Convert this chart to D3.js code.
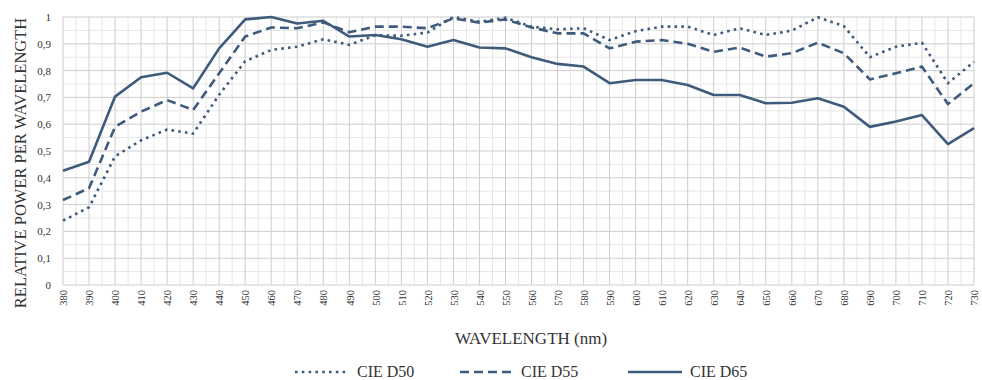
<!DOCTYPE html>
<html>
<head>
<meta charset="utf-8">
<script src="https://cdn.jsdelivr.net/npm/d3@7"></script>
<style>
  body { margin: 0; background: #fff; }
  svg text { font-family: "Liberation Serif", "Times New Roman", "DejaVu Serif", serif; fill: #333; }
</style>
</head>
<body>
<svg id="CHART"></svg>
<script>
// wavelengths (nm)
var wavelengths = [380, 390, 400, 410, 420, 430, 440, 450, 460, 470, 480, 490, 500, 510, 520, 530, 540, 550,
  560, 570, 580, 590, 600, 610, 620, 630, 640, 650, 660, 670, 680, 690, 700, 710, 720, 730];

var d50 = [0.24, 0.29, 0.48, 0.54, 0.58, 0.565, 0.71, 0.835, 0.877, 0.889, 0.917,
  0.896, 0.932, 0.93, 0.942, 1.0, 0.982, 0.997, 0.964, 0.954, 0.958,
  0.914, 0.947, 0.964, 0.964, 0.933, 0.958, 0.933, 0.949, 0.999, 0.966,
  0.85, 0.889, 0.904, 0.753, 0.833];
var d55 = [0.317, 0.361, 0.59, 0.647, 0.69, 0.653, 0.79, 0.927, 0.961, 0.958, 0.98,
  0.943, 0.964, 0.964, 0.958, 0.995, 0.979, 0.991, 0.961, 0.939, 0.939,
  0.883, 0.908, 0.914, 0.9, 0.87, 0.886, 0.852, 0.865, 0.904, 0.865,
  0.767, 0.79, 0.815, 0.675, 0.753];
var d65 = [0.426, 0.46, 0.703, 0.775, 0.792, 0.734, 0.883, 0.991, 1.0, 0.976, 0.986,
  0.927, 0.933, 0.917, 0.889, 0.914, 0.886, 0.883, 0.85, 0.825, 0.815,
  0.753, 0.765, 0.765, 0.746, 0.709, 0.709, 0.678, 0.68, 0.697, 0.665,
  0.59, 0.61, 0.634, 0.526, 0.585];

var seriesNames = ["CIE D50", "CIE D55", "CIE D65"];
var yTicks = [0, 0.1, 0.2, 0.3, 0.4, 0.5, 0.6, 0.7, 0.8, 0.9, 1];

var width = 982, height = 380;
var lineColor = "#3e5b7c";
var dashes = ["2.6,4.2", "9,5", null];
var serif = '"Liberation Serif", "Times New Roman", "DejaVu Serif", serif';

var svg = d3.select("#CHART").attr("width", width).attr("height", height)
  .attr("font-family", serif);

var x = d3.scaleLinear().domain([380, 730]).range([63, 974]);
var y = d3.scaleLinear().domain([0, 1]).range([285, 17]);

// minor grid (every 5 nm / 0.05)
var grid = svg.append("g");
grid.selectAll("line.vminor")
  .data(wavelengths.slice(1))
  .join("line")
  .attr("x1", function (d) { return x(d - 5); })
  .attr("x2", function (d) { return x(d - 5); })
  .attr("y1", y(0)).attr("y2", y(1))
  .attr("stroke", "#e6e6e6").attr("stroke-width", 1);
grid.selectAll("line.hminor")
  .data(yTicks.slice(1))
  .join("line")
  .attr("y1", function (d) { return y(d - 0.05); })
  .attr("y2", function (d) { return y(d - 0.05); })
  .attr("x1", x(380)).attr("x2", x(730))
  .attr("stroke", "#e6e6e6").attr("stroke-width", 1);

// major grid
grid.append("g").selectAll("line")
  .data(wavelengths)
  .join("line")
  .attr("x1", function (d) { return x(d); })
  .attr("x2", function (d) { return x(d); })
  .attr("y1", y(0)).attr("y2", y(1))
  .attr("stroke", "#cdcdcd").attr("stroke-width", 1);
grid.append("g").selectAll("line")
  .data(yTicks)
  .join("line")
  .attr("y1", function (d) { return y(d); })
  .attr("y2", function (d) { return y(d); })
  .attr("x1", x(380)).attr("x2", x(730))
  .attr("stroke", "#cdcdcd").attr("stroke-width", 1);

// y axis labels
var yAxis = svg.append("g")
  .attr("transform", "translate(" + x(380) + ",0)")
  .call(d3.axisLeft(y).tickValues(yTicks).tickSize(0).tickPadding(12)
    .tickFormat(function (d) { return String(d).replace(".", ","); }));
yAxis.attr("font-family", serif).attr("font-size", 11);
yAxis.select(".domain").remove();

// x axis labels (rotated)
var xAxis = svg.append("g")
  .attr("transform", "translate(0," + y(0) + ")")
  .call(d3.axisBottom(x).tickValues(wavelengths).tickSize(0).tickFormat(d3.format("d")));
xAxis.attr("font-family", serif).attr("font-size", 10.5);
xAxis.select(".domain").remove();
xAxis.selectAll("text")
  .attr("transform", "rotate(-90)")
  .attr("x", -5).attr("y", 0).attr("dy", "0.35em")
  .attr("text-anchor", "end");

// axis titles
svg.append("text")
  .attr("transform", "translate(20,163) rotate(-90)")
  .attr("text-anchor", "middle").attr("dy", "0.35em")
  .attr("font-size", 16.5)
  .text("RELATIVE POWER PER WAVELENGTH");
svg.append("text")
  .attr("x", 531).attr("y", 344)
  .attr("text-anchor", "middle")
  .attr("font-size", 17)
  .text("WAVELENGTH (nm)");

// lines
var allSeries = [d50, d55, d65];
var line = d3.line()
  .x(function (d, i) { return x(wavelengths[i]); })
  .y(function (d) { return y(d); });

svg.append("g").selectAll("path")
  .data(allSeries)
  .join("path")
  .attr("d", line)
  .attr("fill", "none")
  .attr("stroke", lineColor)
  .attr("stroke-width", 2.6)
  .attr("stroke-linejoin", "round")
  .attr("stroke-dasharray", function (d, i) { return dashes[i]; });

// legend
var legendX = [295, 460, 628];
var legend = svg.append("g").selectAll("g")
  .data(seriesNames)
  .join("g")
  .attr("transform", function (d, i) { return "translate(" + legendX[i] + ",0)"; });
legend.append("line")
  .attr("x1", 0).attr("x2", 54).attr("y1", 372).attr("y2", 372)
  .attr("stroke", lineColor).attr("stroke-width", 2.6)
  .attr("stroke-dasharray", function (d, i) { return dashes[i]; });
legend.append("text")
  .attr("x", function (d, i) { return i === 1 ? 61 : 62; })
  .attr("y", 376.5)
  .attr("font-size", 16)
  .text(function (d) { return d; });
</script>
</body>
</html>
